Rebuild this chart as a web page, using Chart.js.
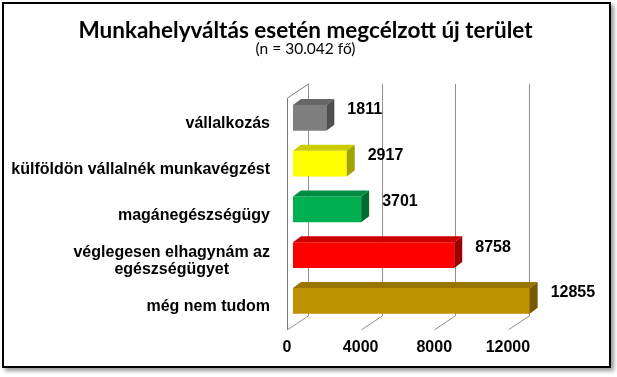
<!DOCTYPE html>
<html>
<head>
<meta charset="utf-8">
<script src="https://cdn.jsdelivr.net/npm/chart.js@4.4.1/dist/chart.umd.min.js"></script>
<style>
  html, body { margin: 0; padding: 0; background: #fff; }
  #frame {
    position: absolute; left: 2px; top: 2px; width: 605px; height: 362px;
    border: 2px solid #000; background: #fff;
    box-shadow: 3px 3px 4px rgba(0, 0, 0, 0.4);
  }
  #chartcanvas { position: absolute; left: 0; top: 0; }
</style>
</head>
<body>
<div id="frame"></div>
<canvas id="chartcanvas" width="617" height="377"></canvas>
<script>
const titleText = 'Munkahelyváltás esetén megcélzott új terület';
const subtitleText = '(n = 30.042 fő)';
const categories = [
  'vállalkozás',
  'külföldön vállalnék munkavégzést',
  'magánegészségügy',
  ['véglegesen elhagynám az', 'egészségügyet'],
  'még nem tudom'
];
const values = [1811, 2917, 3701, 8758, 12855];
const xTicks = [0, 4000, 8000, 12000];

// colours of the fake 3D bars: front, top and side faces
const frontColors = ['#7f7f7f', '#ffff00', '#00b050', '#ff0000', '#bf9000'];
const topColors = ['#666666', '#cccc00', '#008c40', '#cc0000', '#9a7400'];
const sideColors = ['#4f4f4f', '#a3a300', '#006b31', '#9e0000', '#765900'];

const labelFont = '"Liberation Sans", Arial, sans-serif';
const wallDepth = { dx: 21, dy: -14 };
const barShift = { dx: 6, dy: -6 };
const barDepth = { dx: 8, dy: -6 };

const canvas = document.getElementById('chartcanvas');
const ctx = canvas.getContext('2d');

// draws the walls, the bar tops/sides and all the texts Excel puts next to the bars
const fake3d = {
  id: 'fake3d',
  beforeDatasetsDraw(chart) {
    const { ctx, chartArea: ca, scales: { x } } = chart;
    ctx.save();
    ctx.lineWidth = 1;
    ctx.strokeStyle = '#8f8f8f';
    xTicks.forEach(v => {
      const px = Math.round(x.getPixelForValue(v)) + 0.5;
      ctx.beginPath();
      ctx.moveTo(px + wallDepth.dx, ca.top - 3 + wallDepth.dy);
      ctx.lineTo(px + wallDepth.dx, ca.bottom + wallDepth.dy);
      ctx.lineTo(px, ca.bottom);
      ctx.stroke();
    });
    ctx.strokeStyle = '#7a7a7a';
    const lx = Math.round(ca.left) + 0.5;
    ctx.beginPath();
    ctx.moveTo(lx, ca.bottom);
    ctx.lineTo(lx, ca.top - 3);
    ctx.lineTo(lx + wallDepth.dx, ca.top - 3 + wallDepth.dy);
    ctx.stroke();
    ctx.restore();

    ctx.save();
    ctx.translate(barShift.dx, barShift.dy);
  },
  afterDatasetsDraw(chart) {
    const { ctx, chartArea: ca, scales: { y } } = chart;
    const { dx, dy } = barDepth;
    chart.getDatasetMeta(0).data.forEach((bar, i) => {
      const p = bar.getProps(['x', 'y', 'base', 'height'], true);
      const top = p.y - p.height / 2;
      const bottom = p.y + p.height / 2;
      ctx.fillStyle = topColors[i];
      ctx.beginPath();
      ctx.moveTo(p.base, top);
      ctx.lineTo(p.base + dx, top + dy);
      ctx.lineTo(p.x + dx, top + dy);
      ctx.lineTo(p.x, top);
      ctx.closePath();
      ctx.fill();
      ctx.fillStyle = sideColors[i];
      ctx.beginPath();
      ctx.moveTo(p.x, top);
      ctx.lineTo(p.x + dx, top + dy);
      ctx.lineTo(p.x + dx, bottom + dy);
      ctx.lineTo(p.x, bottom);
      ctx.closePath();
      ctx.fill();

      ctx.fillStyle = '#000';
      ctx.font = 'bold 16px ' + labelFont;
      ctx.textAlign = 'left';
      ctx.textBaseline = 'middle';
      ctx.fillText(String(values[i]), p.x + 21, p.y - 8);
    });
    ctx.restore();

    // category labels, several lines centred on each other
    ctx.save();
    ctx.font = 'bold 16px ' + labelFont;
    ctx.fillStyle = '#000';
    ctx.textAlign = 'center';
    ctx.textBaseline = 'middle';
    categories.forEach((lab, i) => {
      const lines = [].concat(lab);
      const w = Math.max(...lines.map(l => ctx.measureText(l).width));
      const cx = ca.left - 17 - w / 2;
      const yc = y.getPixelForValue(i);
      lines.forEach((l, j) => {
        ctx.fillText(l, cx, yc + (j - (lines.length - 1) / 2) * 16.5);
      });
    });
    ctx.restore();
  }
};

const chart = new Chart(ctx, {
  type: 'bar',
  data: {
    labels: categories,
    datasets: [{
      data: values,
      backgroundColor: frontColors,
      borderWidth: 0,
      barPercentage: 0.56,
      categoryPercentage: 1.0,
      clip: false
    }]
  },
  options: {
    indexAxis: 'y',
    responsive: false,
    animation: false,
    layout: { padding: { left: 0, right: 6, top: 0, bottom: 12 } },
    scales: {
      y: {
        type: 'category',
        grid: { display: false, drawTicks: false },
        border: { display: false },
        ticks: { display: false },
        afterFit(scale) { scale.width = 287; }
      },
      x: {
        min: 0,
        max: 17600,
        afterBuildTicks(scale) { scale.ticks = xTicks.map(v => ({ value: v })); },
        grid: { display: false, drawTicks: false },
        border: { display: false },
        ticks: {
          padding: 8,
          color: '#000',
          maxRotation: 0,
          font: { family: labelFont, size: 16, weight: 'bold' },
          callback: v => String(v)
        }
      }
    },
    plugins: {
      legend: { display: false },
      tooltip: { enabled: false },
      title: {
        display: true,
        text: titleText,
        color: '#000',
        font: { family: 'Lato', size: 22.5, weight: 'bold', lineHeight: 1 },
        padding: { top: 19, bottom: 0 }
      },
      subtitle: {
        display: true,
        text: subtitleText,
        color: '#000',
        font: { family: 'Lato', size: 15.5, weight: 'normal', lineHeight: 1 },
        padding: { top: 0, bottom: 44 }
      }
    }
  },
  plugins: [fake3d]
});
</script>
</body>
</html>
